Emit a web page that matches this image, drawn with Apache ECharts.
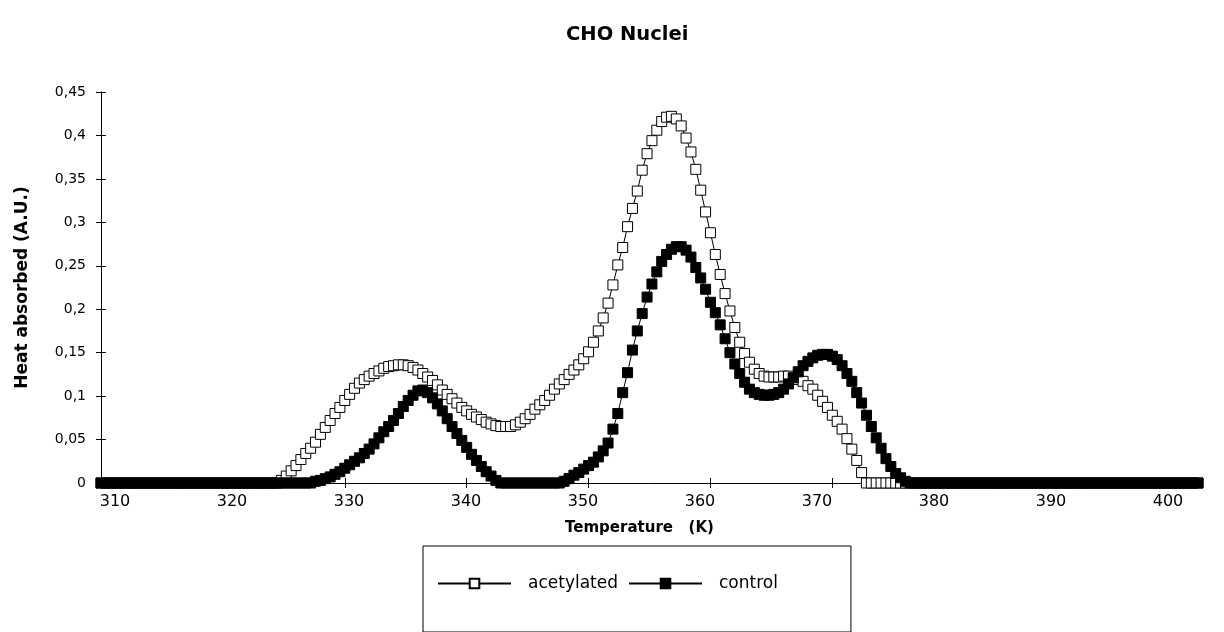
<!DOCTYPE html>
<html>
<head>
<meta charset="utf-8">
<script src="https://cdn.jsdelivr.net/npm/echarts@6/dist/echarts.min.js"></script>
<style>
  html, body { margin: 0; padding: 0; background: #fff; }
  #main { width: 1224px; height: 632px; }
</style>
</head>
<body>
<div id="main"></div>
<script>
// temperature (K), one point every 0.4 K
var temps = [
  310, 310.4, 310.8, 311.2, 311.6, 312, 312.4, 312.8, 313.2, 313.6,
  314, 314.4, 314.8, 315.2, 315.6, 316, 316.4, 316.8, 317.2, 317.6,
  318, 318.4, 318.8, 319.2, 319.6, 320, 320.4, 320.8, 321.2, 321.6,
  322, 322.4, 322.8, 323.2, 323.6, 324, 324.4, 324.8, 325.2, 325.6,
  326, 326.4, 326.8, 327.2, 327.6, 328, 328.4, 328.8, 329.2, 329.6,
  330, 330.4, 330.8, 331.2, 331.6, 332, 332.4, 332.8, 333.2, 333.6,
  334, 334.4, 334.8, 335.2, 335.6, 336, 336.4, 336.8, 337.2, 337.6,
  338, 338.4, 338.8, 339.2, 339.6, 340, 340.4, 340.8, 341.2, 341.6,
  342, 342.4, 342.8, 343.2, 343.6, 344, 344.4, 344.8, 345.2, 345.6,
  346, 346.4, 346.8, 347.2, 347.6, 348, 348.4, 348.8, 349.2, 349.6,
  350, 350.4, 350.8, 351.2, 351.6, 352, 352.4, 352.8, 353.2, 353.6,
  354, 354.4, 354.8, 355.2, 355.6, 356, 356.4, 356.8, 357.2, 357.6,
  358, 358.4, 358.8, 359.2, 359.6, 360, 360.4, 360.8, 361.2, 361.6,
  362, 362.4, 362.8, 363.2, 363.6, 364, 364.4, 364.8, 365.2, 365.6,
  366, 366.4, 366.8, 367.2, 367.6, 368, 368.4, 368.8, 369.2, 369.6,
  370, 370.4, 370.8, 371.2, 371.6, 372, 372.4, 372.8, 373.2, 373.6,
  374, 374.4, 374.8, 375.2, 375.6, 376, 376.4, 376.8, 377.2, 377.6,
  378, 378.4, 378.8, 379.2, 379.6, 380, 380.4, 380.8, 381.2, 381.6,
  382, 382.4, 382.8, 383.2, 383.6, 384, 384.4, 384.8, 385.2, 385.6,
  386, 386.4, 386.8, 387.2, 387.6, 388, 388.4, 388.8, 389.2, 389.6,
  390, 390.4, 390.8, 391.2, 391.6, 392, 392.4, 392.8, 393.2, 393.6,
  394, 394.4, 394.8, 395.2, 395.6, 396, 396.4, 396.8, 397.2, 397.6,
  398, 398.4, 398.8, 399.2, 399.6, 400
];

var acetylated = [
  0, 0, 0, 0, 0, 0, 0, 0, 0, 0,
  0, 0, 0, 0, 0, 0, 0, 0, 0, 0,
  0, 0, 0, 0, 0, 0, 0, 0, 0, 0,
  0, 0, 0, 0, 0, 0, 0, 0.003, 0.008, 0.014,
  0.020, 0.027, 0.034, 0.040, 0.047, 0.056, 0.064, 0.072, 0.080, 0.087,
  0.095, 0.102, 0.109, 0.115, 0.119, 0.123, 0.126, 0.129, 0.132, 0.134,
  0.135, 0.136, 0.136, 0.135, 0.133, 0.130, 0.126, 0.122, 0.118, 0.113,
  0.107, 0.102, 0.097, 0.092, 0.087, 0.083, 0.079, 0.076, 0.073, 0.070,
  0.068, 0.066, 0.065, 0.065, 0.065, 0.067, 0.070, 0.074, 0.079, 0.085,
  0.090, 0.095, 0.101, 0.108, 0.114, 0.119, 0.125, 0.130, 0.136, 0.143,
  0.151, 0.162, 0.175, 0.190, 0.207, 0.228, 0.251, 0.271, 0.295, 0.316,
  0.336, 0.360, 0.379, 0.394, 0.406, 0.416, 0.421, 0.422, 0.419, 0.411,
  0.397, 0.381, 0.361, 0.337, 0.312, 0.288, 0.263, 0.240, 0.218, 0.198,
  0.179, 0.162, 0.149, 0.139, 0.131, 0.126, 0.123, 0.122, 0.122, 0.122,
  0.123, 0.123, 0.121, 0.119, 0.117, 0.112, 0.108, 0.101, 0.094, 0.087,
  0.078, 0.071, 0.062, 0.051, 0.039, 0.026, 0.012, 0, 0, 0,
  0, 0, 0, 0, 0, 0, 0, 0, 0, 0,
  0, 0, 0, 0, 0, 0, 0, 0, 0, 0,
  0, 0, 0, 0, 0, 0, 0, 0, 0, 0,
  0, 0, 0, 0, 0, 0, 0, 0, 0, 0,
  0, 0, 0, 0, 0, 0, 0, 0, 0, 0,
  0, 0, 0, 0, 0, 0, 0, 0, 0, 0,
  0, 0, 0, 0, 0, 0
];

var control = [
  0, 0, 0, 0, 0, 0, 0, 0, 0, 0,
  0, 0, 0, 0, 0, 0, 0, 0, 0, 0,
  0, 0, 0, 0, 0, 0, 0, 0, 0, 0,
  0, 0, 0, 0, 0, 0, 0, 0, 0, 0,
  0, 0, 0, 0, 0.002, 0.003, 0.005, 0.007, 0.010, 0.013,
  0.017, 0.021, 0.025, 0.029, 0.034, 0.039, 0.045, 0.052, 0.059, 0.065,
  0.072, 0.080, 0.088, 0.095, 0.101, 0.106, 0.107, 0.104, 0.098, 0.091,
  0.083, 0.074, 0.065, 0.057, 0.049, 0.041, 0.033, 0.026, 0.019, 0.013,
  0.008, 0.003, 0, 0, 0, 0, 0, 0, 0, 0,
  0, 0, 0, 0, 0, 0.002, 0.005, 0.009, 0.012, 0.016,
  0.020, 0.024, 0.030, 0.037, 0.046, 0.062, 0.080, 0.104, 0.127, 0.153,
  0.175, 0.195, 0.214, 0.229, 0.243, 0.255, 0.263, 0.269, 0.272, 0.272,
  0.268, 0.260, 0.248, 0.236, 0.223, 0.208, 0.196, 0.182, 0.166, 0.150,
  0.137, 0.126, 0.116, 0.108, 0.104, 0.102, 0.101, 0.101, 0.102, 0.104,
  0.108, 0.114, 0.121, 0.128, 0.135, 0.140, 0.144, 0.147, 0.148, 0.148,
  0.146, 0.142, 0.135, 0.126, 0.117, 0.104, 0.092, 0.078, 0.065, 0.052,
  0.040, 0.028, 0.019, 0.011, 0.006, 0.002, 0, 0, 0, 0,
  0, 0, 0, 0, 0, 0, 0, 0, 0, 0,
  0, 0, 0, 0, 0, 0, 0, 0, 0, 0,
  0, 0, 0, 0, 0, 0, 0, 0, 0, 0,
  0, 0, 0, 0, 0, 0, 0, 0, 0, 0,
  0, 0, 0, 0, 0, 0, 0, 0, 0, 0,
  0, 0, 0, 0, 0, 0
];

var seriesNames = ['acetylated', 'control'];

function pairs(ys) {
  var out = [];
  for (var i = 0; i < temps.length; i++) out.push([temps[i], ys[i]]);
  return out;
}

var chartDom = document.getElementById('main');
var myChart = echarts.init(chartDom, null, { renderer: 'canvas' });
var font = '"DejaVu Sans", "Liberation Sans", Arial, sans-serif';

var option = {
  backgroundColor: '#ffffff',
  animation: false,
  title: {
    text: 'CHO Nuclei',
    left: 566,
    top: 25,
    padding: 0,
    textStyle: { fontFamily: font, fontSize: 19.5, fontWeight: 'bold', color: '#000' }
  },
  legend: {
    data: seriesNames,
    left: 423,
    top: 546,
    orient: 'horizontal',
    borderColor: '#000',
    borderWidth: 1,
    padding: [29, 73, 40, 14],
    itemWidth: 73,
    itemHeight: 12,
    itemGap: 10,
    textStyle: { fontFamily: font, fontSize: 17, color: '#000', padding: [0, 0, 0, 12] }
  },
  // second grid only carries the tick labels, which sit slightly tighter than the ticks
  grid: [
    { left: 101, right: 26, top: 92, bottom: 149, containLabel: false },
    { left: 115, right: 56, top: 92, bottom: 149, containLabel: false }
  ],
  xAxis: [
    {
      type: 'value',
      gridIndex: 0,
      min: 310,
      max: 400,
      interval: 10,
      name: 'Temperature   (K)',
      nameLocation: 'middle',
      nameGap: 38,
      nameTextStyle: {
        fontFamily: font, fontSize: 15, fontWeight: 'bold', color: '#000',
        padding: [0, 20, 0, 0]
      },
      axisLine: { lineStyle: { color: '#000', width: 1 } },
      axisTick: { show: true, inside: false, length: 5, lineStyle: { color: '#000' } },
      axisLabel: { show: false },
      splitLine: { show: false }
    },
    {
      type: 'value',
      gridIndex: 0,
      min: 310,
      max: 400,
      interval: 10,
      position: 'bottom',
      axisLine: { show: false },
      axisTick: { show: true, inside: true, length: 5, lineStyle: { color: '#000' } },
      axisLabel: { show: false },
      splitLine: { show: false }
    },
    {
      type: 'value',
      gridIndex: 1,
      min: 310,
      max: 400,
      interval: 10,
      position: 'bottom',
      axisLine: { show: false },
      axisTick: { show: false },
      axisLabel: { fontFamily: font, fontSize: 16, color: '#000', margin: 11 },
      splitLine: { show: false }
    }
  ],
  yAxis: [
    {
      type: 'value',
      gridIndex: 0,
      min: 0,
      max: 0.45,
      interval: 0.05,
      name: 'Heat absorbed (A.U.)',
      nameLocation: 'middle',
      nameGap: 70,
      nameTextStyle: { fontFamily: font, fontSize: 17, fontWeight: 'bold', color: '#000' },
      axisLine: { show: true, lineStyle: { color: '#000', width: 1 } },
      axisTick: { show: true, inside: false, length: 5, lineStyle: { color: '#000' } },
      axisLabel: {
        fontFamily: font, fontSize: 14, color: '#000', margin: 15,
        formatter: function (v) { return String(+v.toFixed(2)).replace('.', ','); }
      },
      splitLine: { show: false }
    },
    {
      type: 'value',
      gridIndex: 0,
      min: 0,
      max: 0.45,
      interval: 0.05,
      position: 'left',
      axisLine: { show: false },
      axisTick: { show: true, inside: true, length: 5, lineStyle: { color: '#000' } },
      axisLabel: { show: false },
      splitLine: { show: false }
    },
    {
      type: 'value',
      gridIndex: 1,
      min: 0,
      max: 0.45,
      show: false
    }
  ],
  series: [
    {
      name: 'acetylated',
      type: 'line',
      xAxisIndex: 0,
      yAxisIndex: 0,
      data: pairs(acetylated),
      symbol: 'rect',
      symbolSize: 10,
      showAllSymbol: true,
      lineStyle: { color: '#000', width: 1 },
      itemStyle: { color: '#fff', borderColor: '#000', borderWidth: 1 },
      z: 2
    },
    {
      name: 'control',
      type: 'line',
      xAxisIndex: 0,
      yAxisIndex: 0,
      data: pairs(control),
      symbol: 'rect',
      symbolSize: 10,
      showAllSymbol: true,
      lineStyle: { color: '#000', width: 1 },
      itemStyle: { color: '#000', borderColor: '#000', borderWidth: 1 },
      z: 3
    }
  ]
};

option && myChart.setOption(option);
</script>
</body>
</html>
